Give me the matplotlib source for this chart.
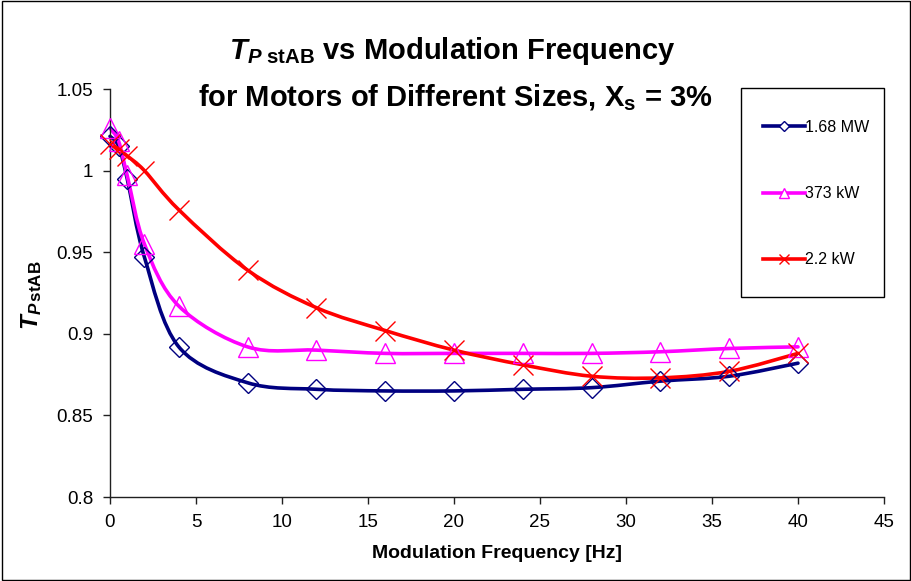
import matplotlib
matplotlib.use("Agg")
import matplotlib.pyplot as plt
from matplotlib.path import Path
from matplotlib.patches import PathPatch, Rectangle
from matplotlib.lines import Line2D
import numpy as np

plt.rcParams['font.family'] = ['Liberation Sans', 'DejaVu Sans']
plt.rcParams['mathtext.fontset'] = 'custom'
plt.rcParams['mathtext.rm'] = 'Liberation Sans'
plt.rcParams['mathtext.it'] = 'Liberation Sans:italic'
plt.rcParams['mathtext.bf'] = 'Liberation Sans:bold'
plt.rcParams['mathtext.bfit'] = 'Liberation Sans:italic:bold'

# data
freq = [0, 0.5, 1, 2, 4, 8, 12, 16, 20, 24, 28, 32, 36, 40]
mw_168 = [1.021, 1.015, 0.995, 0.947, 0.892, 0.870, 0.866, 0.865, 0.865, 0.866, 0.867, 0.871, 0.874, 0.882]
kw_373 = [1.026, 1.018, 0.997, 0.955, 0.917, 0.892, 0.890, 0.888, 0.888, 0.888, 0.888, 0.889, 0.891, 0.892]
kw_22 = [1.016, 1.013, 1.009, 1.000, 0.976, 0.939, 0.916, 0.902, 0.890, 0.881, 0.874, 0.873, 0.877, 0.888]

labels = ['1.68 MW', '373 kW', '2.2 kW']
colors = ['#000080', '#FF00FF', '#FF0000']
markers = ['D', '^', 'x']
msizes = [10, 14, 15]

xticks = [0, 5, 10, 15, 20, 25, 30, 35, 40, 45]
yticks = [0.8, 0.85, 0.9, 0.95, 1.0, 1.05]
ytick_labels = ['0.8', '0.85', '0.9', '0.95', '1', '1.05']


def smooth_path(x, y):
    # excel-like smoothed line: cubic bezier with catmull-rom control points
    p = np.column_stack([x, y]).astype(float)
    n = len(p)
    verts = [p[0]]
    codes = [Path.MOVETO]
    for i in range(n - 1):
        p0 = p[i - 1] if i > 0 else p[i]
        p3 = p[i + 2] if i + 2 < n else p[i + 1]
        c1 = p[i] + (p[i + 1] - p0) / 6.0
        c2 = p[i + 1] - (p3 - p[i]) / 6.0
        verts += [c1, c2, p[i + 1]]
        codes += [Path.CURVE4] * 3
    return Path(verts, codes)


fig = plt.figure(figsize=(9.12, 5.81), dpi=100)
ax = fig.add_axes([110 / 912, 1 - 497 / 581, 774 / 912, 408 / 581])

for yv, c, m, ms in zip([mw_168, kw_373, kw_22], colors, markers, msizes):
    ax.add_patch(PathPatch(smooth_path(freq, yv), fill=False, edgecolor=c,
                           lw=2.6, capstyle='round', joinstyle='round', zorder=2,
                           clip_on=False))
    ax.plot(freq, yv, ls='none', marker=m, ms=ms, mfc='none', mec=c, mew=1, zorder=3,
            clip_on=False)

ax.set_xlim(0, 45)
ax.set_ylim(0.8, 1.05)
ax.set_xticks(xticks)
ax.set_yticks(yticks)
ax.set_yticklabels(ytick_labels)
for s in ['top', 'right']:
    ax.spines[s].set_visible(False)
for s in ['left', 'bottom']:
    ax.spines[s].set_linewidth(1)
    ax.spines[s].set_color('#202020')
ax.tick_params(direction='out', length=5, width=1, color='#202020', labelsize=13.5, pad=7)
ax.set_xlabel('Modulation Frequency [Hz]', fontsize=14, fontweight='bold', labelpad=10)

fig.text(32 / 912, 1 - 295 / 581, r'$\mathbfit{T}_{\mathbfit{P}\,\mathbf{stAB}}$',
         rotation=90, fontsize=17.5, ha='center', va='center')

fig.text(452 / 912, 1 - 51 / 581,
         r'$\mathbfit{T}_{\mathbfit{P}\ \mathbf{stAB}}$ vs Modulation Frequency',
         fontsize=21, fontweight='bold', ha='center', va='center')
fig.text(455 / 912, 1 - 98 / 581,
         r'for Motors of Different Sizes, X$_\mathbf{s}$ = 3%',
         fontsize=21, fontweight='bold', ha='center', va='center')

# legend box
fig.patches.append(Rectangle((741 / 912, 1 - 297 / 581), 143 / 912, 209 / 581,
                             transform=fig.transFigure, fill=True, facecolor='white',
                             edgecolor='black', lw=1, zorder=5))
handles = [Line2D([], [], color=c, lw=2.6, marker=m, ms=ms * 0.5, mfc='white', mec=c, mew=1)
           for c, m, ms in zip(colors, markers, msizes)]
leg = fig.legend(handles, labels, loc='upper left', bbox_to_anchor=(755 / 912, 1 - 112 / 581),
                 frameon=False, fontsize=11.5, handlelength=2.6, handletextpad=0.05,
                 labelspacing=3.2, borderpad=0)
leg.set_zorder(6)

# chart border
fig.patches.append(Rectangle((0.002, 0.002), 0.996, 0.996, transform=fig.transFigure,
                             fill=False, edgecolor='black', lw=1))

fig.savefig('out.png', dpi=100)
